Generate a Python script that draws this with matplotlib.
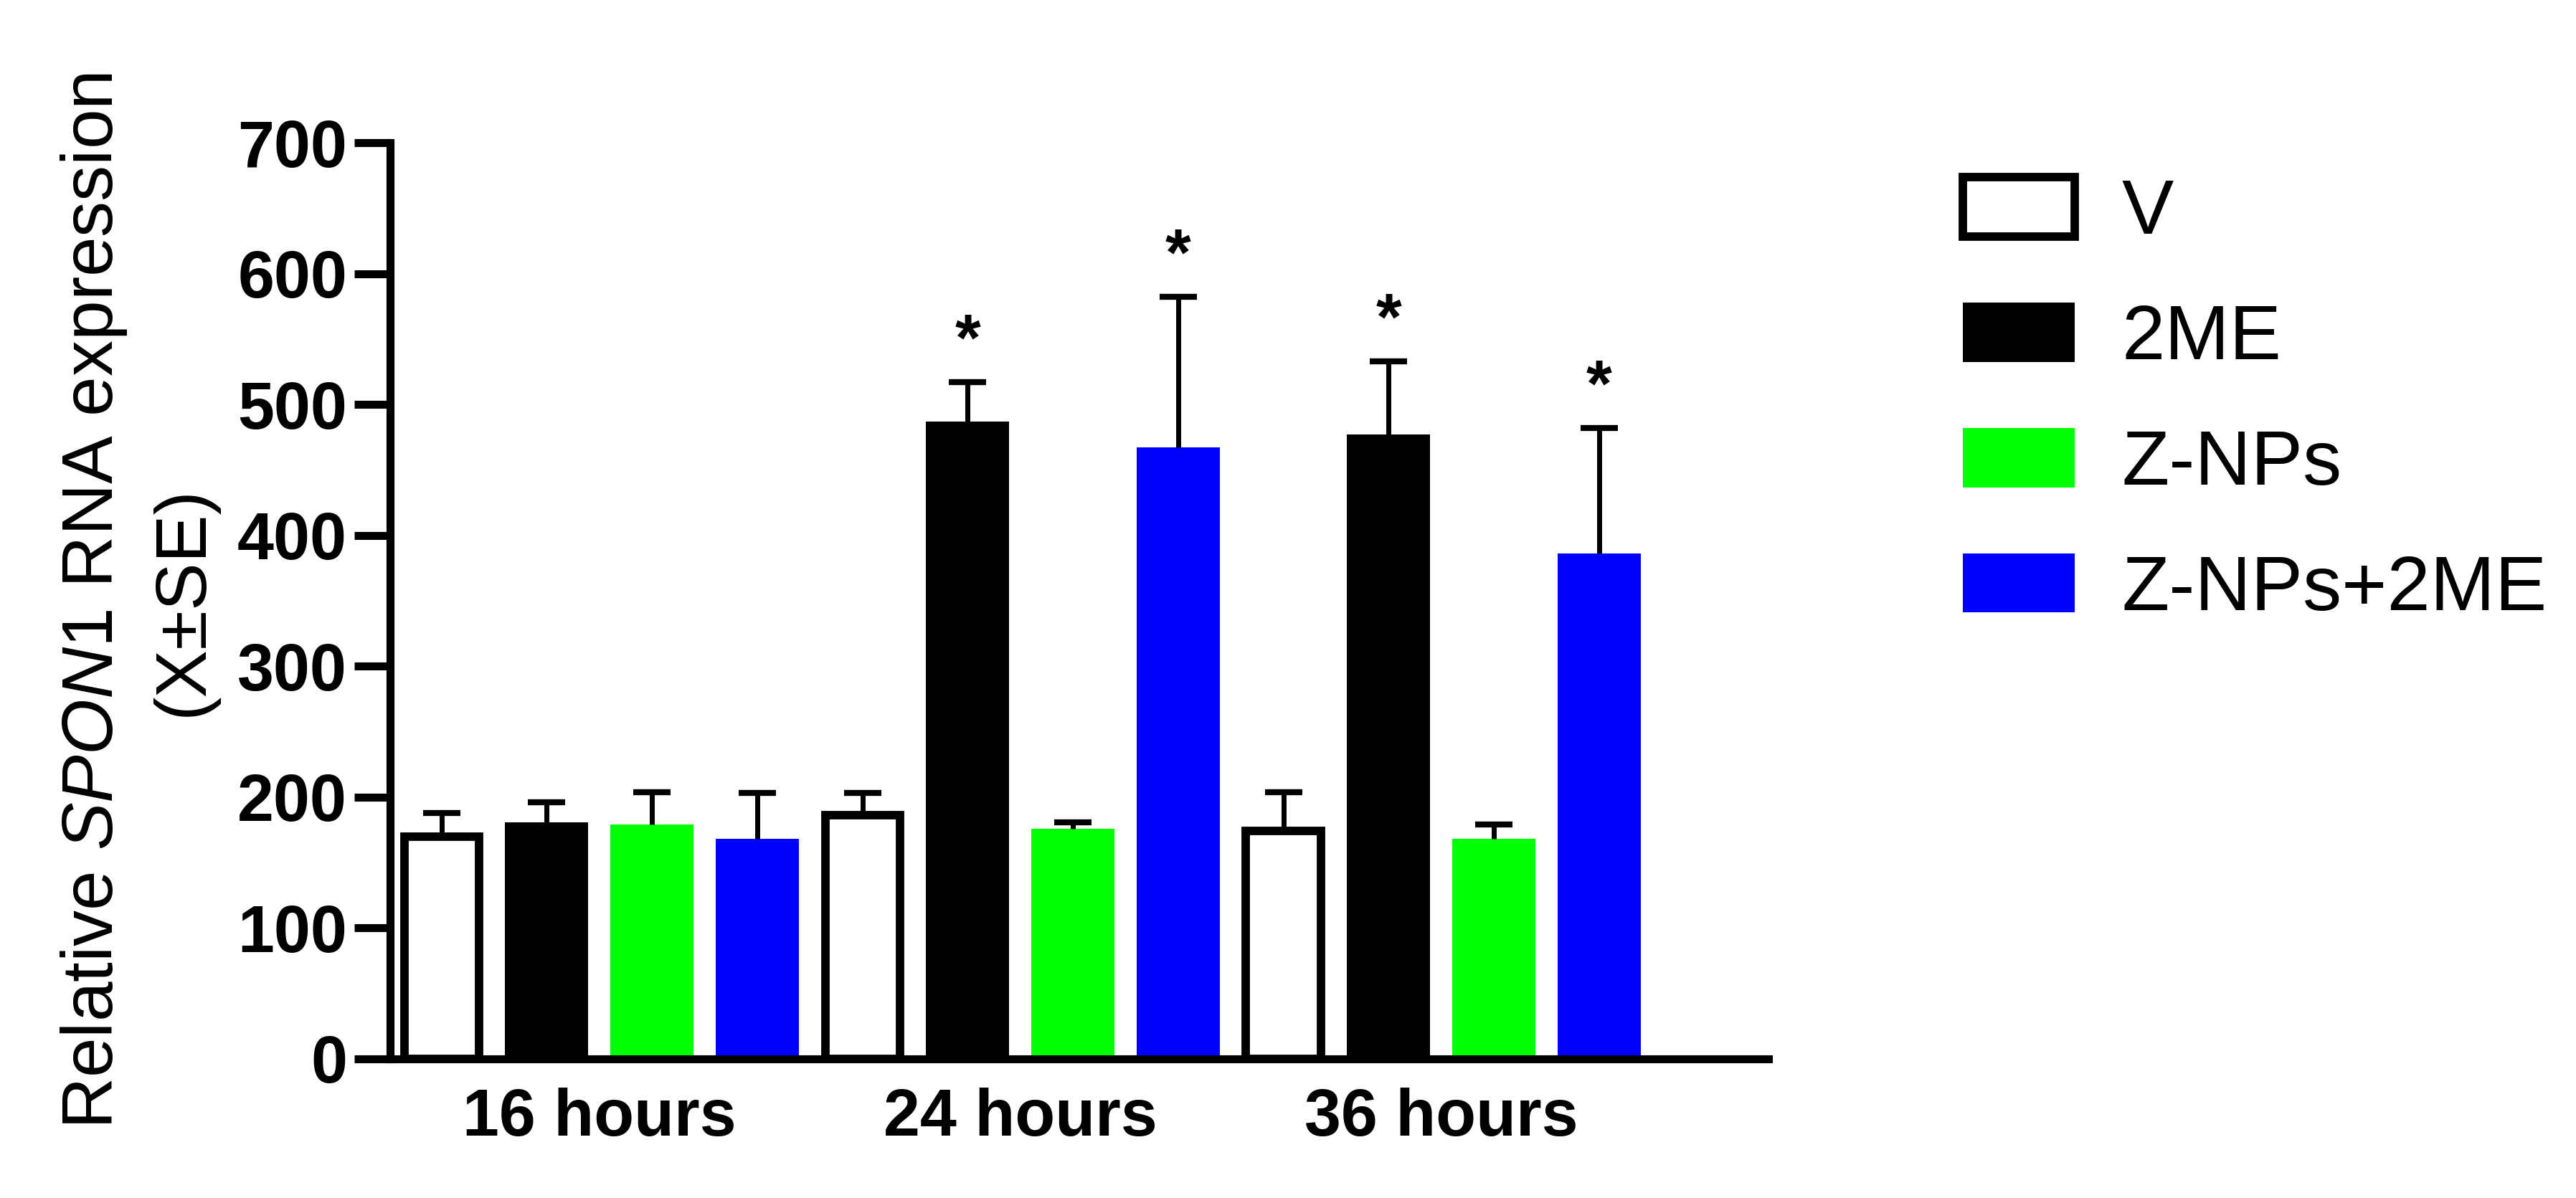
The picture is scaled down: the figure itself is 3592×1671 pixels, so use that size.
import numpy as np
import matplotlib
matplotlib.use('Agg')
import matplotlib.pyplot as plt

plt.rcParams['font.family'] = ['Liberation Sans', 'DejaVu Sans']
plt.rcParams['mathtext.fontset'] = 'custom'
plt.rcParams['mathtext.rm'] = 'Liberation Sans'
plt.rcParams['mathtext.it'] = 'Liberation Sans:italic'

# Данные
groups = ['16 hours', '24 hours', '36 hours']
treatments = ['V', '2ME', 'Z-NPs', 'Z-NPs+2ME']
v_mean = [170, 186, 174]
me_mean = [181, 487, 477]
znp_mean = [179, 176, 168]
znp_me_mean = [168, 467, 386]
v_se = [18, 17, 30]
me_se = [15, 30, 56]
znp_se = [25, 5, 11]
znp_me_se = [35, 115, 96]
# звёздочки значимости
v_sig = [False, False, False]
me_sig = [False, True, True]
znp_sig = [False, False, False]
znp_me_sig = [False, True, True]

means = [v_mean, me_mean, znp_mean, znp_me_mean]
ses = [v_se, me_se, znp_se, znp_me_se]
sigs = [v_sig, me_sig, znp_sig, znp_me_sig]

faces = ['white', 'black', '#00ff00', '#0000ff']
edges = ['black', 'black', '#00ff00', '#0000ff']
edge_w = [8.5, 0, 0, 0]
widths = [0.71, 0.79, 0.79, 0.79]

fig = plt.figure(figsize=(35.92, 16.71), dpi=100)
ax = fig.add_axes([0.1514, 0.1161, 0.6865 - 0.1514, 0.8809 - 0.1161])

handles = []
for i in range(4):
    x = np.arange(len(groups)) * 4 + i
    m = np.array(means[i])
    s = np.array(ses[i])
    b = ax.bar(x, m, width=widths[i], color=faces[i], edgecolor=edges[i],
               linewidth=edge_w[i], label=treatments[i], zorder=2)
    handles.append(b)
    # только верхняя половина планки погрешности
    ax.vlines(x, m, m + s, colors='black', linewidth=5, zorder=3)
    ax.plot(x, m + s, ls='none', marker='_', markersize=37, markeredgewidth=6,
            color='black', zorder=3)
    for xi, top, sg in zip(x, m + s, sigs[i]):
        if sg:
            ax.annotate('*', xy=(xi, top), xytext=(0, 22), textcoords='offset points',
                        ha='center', va='baseline', fontsize=66, fontweight='bold')

ax.set_xlim(-0.49, 12.61)
ax.set_ylim(0, 700)
ax.set_yticks(np.arange(0, 701, 100))
ax.set_xticks(np.arange(len(groups)) * 4 + 1.5)
ax.set_xticklabels(groups)

for sp in ['top', 'right']:
    ax.spines[sp].set_visible(False)
for sp in ['left', 'bottom']:
    ax.spines[sp].set_linewidth(8)
    ax.spines[sp].set_zorder(4)

ax.tick_params(axis='y', length=36, width=8, pad=7, labelsize=66)
ax.tick_params(axis='x', length=0, pad=29, labelsize=66)
for lab in ax.get_xticklabels() + ax.get_yticklabels():
    lab.set_fontweight('bold')

ax.set_ylabel('Relative $\\mathit{SPON1}$ RNA expression\n(X\u00b1SE)', fontsize=72,
              linespacing=1.4)
ax.yaxis.set_label_coords(-0.1254, 0.5)

fig.legend(handles=handles, labels=treatments, loc='upper left',
           bbox_to_anchor=(0.762, 0.852), frameon=False, fontsize=78,
           handlelength=1.44, handleheight=0.8, handletextpad=0.6,
           labelspacing=0.68, borderpad=0, borderaxespad=0)

fig.savefig('out.png', dpi=100)
